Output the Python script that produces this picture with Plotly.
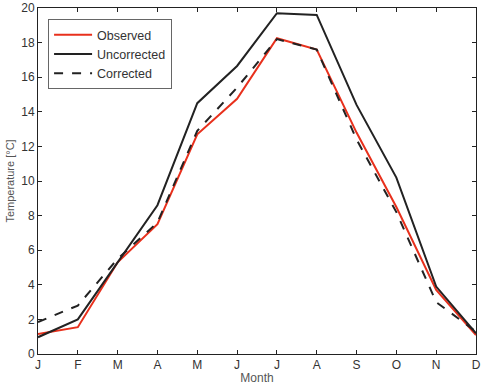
import plotly.graph_objects as go

months = ["J", "F", "M", "A", "M", "J", "J", "A", "S", "O", "N", "D"]
observed = [1.15, 1.55, 5.3, 7.5, 12.7, 14.75, 18.25, 17.6, 12.8, 8.5, 3.7, 1.1]
uncorrected = [0.97, 2.0, 5.3, 8.6, 14.5, 16.65, 19.7, 19.6, 14.4, 10.2, 3.9, 1.2]
corrected = [1.85, 2.8, 5.5, 7.6, 12.9, 15.4, 18.2, 17.6, 12.4, 8.2, 3.0, 1.3]
yticks = list(range(0, 21, 2))

x = list(range(len(months)))

fig = go.Figure()
fig.add_trace(go.Scatter(x=x, y=observed, mode="lines", name="Observed",
                         line=dict(color="#e8301c", width=2)))
fig.add_trace(go.Scatter(x=x, y=uncorrected, mode="lines", name="Uncorrected",
                         line=dict(color="#222222", width=2)))
fig.add_trace(go.Scatter(x=x, y=corrected, mode="lines", name="Corrected",
                         line=dict(color="#222222", width=2, dash="dash")))

axis_common = dict(showgrid=False, zeroline=False, showline=True, mirror="ticks",
                   linecolor="#222222", linewidth=1, ticks="inside", ticklen=4,
                   tickcolor="#222222", automargin=False,
                   tickfont=dict(size=12, color="#333333", family="Liberation Sans, Arial"))

fig.update_layout(
    width=483, height=386,
    margin=dict(l=38, r=7, t=8, b=32, autoexpand=False),
    paper_bgcolor="white", plot_bgcolor="white",
    font=dict(family="Liberation Sans, Arial", color="#333333"),
    xaxis=dict(range=[0, 11], tickmode="array", tickvals=x, ticktext=months,
               title=dict(text="Month", font=dict(size=12, color="#555555"), standoff=2),
               **axis_common),
    yaxis=dict(range=[0, 20], tickmode="array", tickvals=yticks,
               title=dict(text="Temperature [°C]", font=dict(size=11, color="#555555"), standoff=4),
               **axis_common),
    legend=dict(x=0.023, y=0.968, xanchor="left", yanchor="top",
                bgcolor="white", bordercolor="#666666", borderwidth=1,
                font=dict(size=12.5, color="#333333"), tracegroupgap=0,
                itemwidth=38),
    showlegend=True,
)

fig.write_html("out.html")
